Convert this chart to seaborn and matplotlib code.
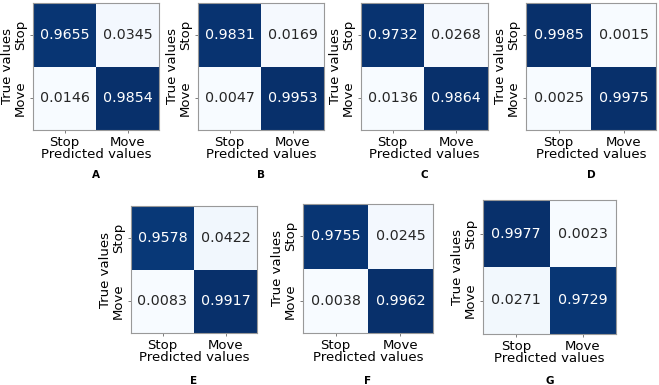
import numpy as np
import matplotlib
matplotlib.use("Agg")
import matplotlib.pyplot as plt
import seaborn as sns

# normalised confusion matrices, rows = true, cols = predicted
classes = ["Stop", "Move"]
panel_letters = ["A", "B", "C", "D", "E", "F", "G"]
cm_a = [[0.9655, 0.0345], [0.0146, 0.9854]]
cm_b = [[0.9831, 0.0169], [0.0047, 0.9953]]
cm_c = [[0.9732, 0.0268], [0.0136, 0.9864]]
cm_d = [[0.9985, 0.0015], [0.0025, 0.9975]]
cm_e = [[0.9578, 0.0422], [0.0083, 0.9917]]
cm_f = [[0.9755, 0.0245], [0.0038, 0.9962]]
cm_g = [[0.9977, 0.0023], [0.0271, 0.9729]]
matrices = [cm_a, cm_b, cm_c, cm_d, cm_e, cm_f, cm_g]

W, H = 659, 385
# heatmap boxes in pixels: left, top, width, height
boxes = [
    (33, 3, 126, 127), (198, 3, 126, 127), (361, 3, 127, 127), (526, 3, 130, 127),
    (131, 206, 126, 127), (303, 204, 130, 129), (483, 200, 133, 134),
]
letter_y = [175, 175, 175, 175, 381, 381, 381]

sns.set_style("white")
plt.rcParams.update({"font.family": ["DejaVu Sans"],
                     "text.color": "black", "axes.labelcolor": "black",
                     "xtick.color": "black", "ytick.color": "black"})
fig = plt.figure(figsize=(W / 100, H / 100), dpi=100)

for cm, (l, t, w, h), letter, ly in zip(matrices, boxes, panel_letters, letter_y):
    ax = fig.add_axes([l / W, 1 - (t + h) / H, w / W, h / H])
    sns.heatmap(np.array(cm), annot=True, fmt=".4f", cmap="Blues",
                cbar=False, square=False, ax=ax, annot_kws={"fontsize": 10.3},
                xticklabels=classes, yticklabels=classes)
    for s in ax.spines.values():
        s.set_visible(True)
        s.set_color("#999999")
        s.set_linewidth(0.8)
    ax.tick_params(axis="both", length=2.5, width=0.6, color="#666666",
                   labelsize=9.5, pad=2, left=True, bottom=True)
    ax.set_yticklabels(classes, rotation=90, va="center")
    ax.set_xticklabels(classes, rotation=0)
    ax.set_xlabel("Predicted values", fontsize=9.5, labelpad=-1)
    ax.set_ylabel("True values", fontsize=9.5, labelpad=0)
    fig.text((l + w / 2) / W, 1 - ly / H, letter, ha="center", va="center",
             fontsize=7.5, fontweight="bold")

fig.savefig("out.png", dpi=100)
